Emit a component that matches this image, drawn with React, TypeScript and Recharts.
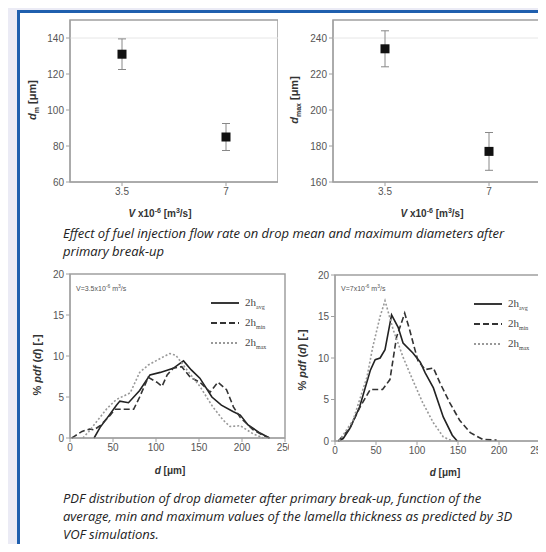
import {
  ScatterChart,
  Scatter,
  ErrorBar,
  LineChart,
  Line,
  XAxis,
  YAxis,
  ReferenceArea,
  ReferenceLine,
} from "recharts";

// flow rate panels (V x10^-6 m3/s)
const flowRates = [3.5, 7];
const meanDiam = [131, 85];
const meanErr = [8.5, 7.5];
const maxDiam = [234, 177];
const maxErr = [10, 10.5];

// pdf, V = 3.5e-6
const lowAvgD = [28, 35, 45, 54, 58, 68, 81, 93, 105, 120, 132, 141, 151, 165, 176, 190, 198, 207, 221, 232];
const lowAvgV = [0, 1.3, 2.7, 4.0, 4.5, 4.3, 5.8, 7.7, 8.0, 8.5, 9.4, 8.3, 7.3, 5.0, 4.0, 3.2, 2.8, 1.6, 0.6, 0];
const lowMinD = [2, 5, 14, 23, 28, 35, 47, 52, 66, 74, 81, 91, 101, 107, 113, 120, 130, 140, 151, 163, 172, 182, 190, 198, 213, 225, 232];
const lowMinV = [0, 0.2, 0.8, 1.1, 1.0, 1.5, 2.8, 3.5, 3.5, 3.5, 5.0, 7.4, 6.8, 6.3, 7.7, 8.5, 8.7, 7.4, 6.8, 5.6, 6.8, 5.9, 3.8, 2.5, 1.0, 0.3, 0];
const lowMaxD = [15, 22, 31, 43, 54, 70, 81, 91, 105, 116, 123, 136, 151, 166, 178, 186, 198, 213, 225];
const lowMaxV = [0, 0.8, 2.0, 3.6, 4.7, 5.5, 8.0, 8.9, 9.7, 10.3, 10.1, 8.3, 6.3, 3.8, 2.2, 1.4, 1.5, 0.5, 0];

// pdf, V = 7e-6
const highAvgD = [4, 10, 18, 30, 43, 49, 55, 61, 69, 77, 83, 95, 104, 110, 120, 132, 143, 149];
const highAvgV = [0, 0.3, 1.5, 4.1, 8.5, 9.8, 10, 11, 15.2, 13.7, 11.8, 10.6, 9.5, 8.2, 6.4, 2.9, 0.7, 0];
const highMinD = [4, 18, 30, 43, 58, 67, 75, 85, 91, 101, 110, 120, 128, 140, 152, 165, 180, 197];
const highMinV = [0, 1.5, 4.0, 6.2, 6.2, 7.4, 12.5, 15.4, 13.4, 9.7, 8.6, 8.8, 7.0, 4.6, 2.5, 1.0, 0.2, 0.1];
const highMaxD = [5, 22, 39, 46, 55, 61, 71, 83, 95, 107, 120, 132, 143];
const highMaxV = [0, 2.5, 7.7, 11.3, 15, 16.9, 13.4, 10.1, 7.3, 4.6, 2.2, 0.5, 0];

const pdfTicksX = [0, 50, 100, 150, 200, 250];
const pdfTicksY = [0, 5, 10, 15, 20];

const toPoints = (ds: number[], vs: number[]) => ds.map((d, i) => ({ d, v: vs[i] }));
const meanPts = flowRates.map((x, i) => ({ x, y: meanDiam[i], err: meanErr[i] }));
const maxPts = flowRates.map((x, i) => ({ x, y: maxDiam[i], err: maxErr[i] }));

const tickStyle = { fontSize: 10, fill: "#555", fontFamily: "Liberation Sans" };
const boxStroke = "#a0a0a0";

const Square = (p: any) => <rect x={p.cx - 4.5} y={p.cy - 4.5} width={9} height={9} fill="#111" />;

const seriesStyles = [
  { key: "avg", dash: undefined, color: "#222" },
  { key: "min", dash: "6 3", color: "#333" },
  { key: "max", dash: "2 2", color: "#999" },
];

const abs = (left: number, top: number, extra: any = {}) => ({ position: "absolute" as const, left, top, ...extra });

const PdfLegend = ({ left, top }: any) => (
  <div style={abs(left, top, { fontFamily: "Liberation Serif", fontSize: 11, color: "#444" })}>
    {seriesStyles.map((s) => (
      <div key={s.key} style={{ display: "flex", alignItems: "center", height: 20 }}>
        <svg width={30} height={6}>
          <line x1={0} y1={3} x2={28} y2={3} stroke={s.color} strokeWidth={1.8} strokeDasharray={s.dash} />
        </svg>
        <span style={{ marginLeft: 4 }}>
          2h<sub style={{ fontSize: 6 }}>{s.key}</sub>
        </span>
      </div>
    ))}
  </div>
);

const VText = ({ cx, cy, children, size = 11 }: any) => (
  <div
    style={abs(cx, cy, {
      transform: "translate(-50%,-50%) rotate(-90deg)",
      whiteSpace: "nowrap",
      fontFamily: "Liberation Sans",
      fontWeight: "bold",
      fontSize: size,
      color: "#333",
    })}
  >
    {children}
  </div>
);

const HText = ({ cx, cy, children }: any) => (
  <div
    style={abs(cx, cy, {
      transform: "translate(-50%,-50%)",
      whiteSpace: "nowrap",
      fontFamily: "Liberation Sans",
      fontWeight: "bold",
      fontSize: 10,
      color: "#333",
    })}
  >
    {children}
  </div>
);

const captionStyle = {
  fontFamily: "Open Sans",
  fontStyle: "italic",
  fontSize: 13,
  lineHeight: "18px",
  color: "#222",
  whiteSpace: "nowrap" as const,
};

const FlowChart = ({ data, domain, ticks, top }: any) => (
  <ScatterChart width={260} height={230} margin={{ top: 20, right: 0, bottom: 18, left: 0 }}>
    <XAxis
      type="number"
      dataKey="x"
      domain={[1.75, 8.75]}
      ticks={flowRates}
      height={30}
      tick={tickStyle}
      tickSize={4}
      stroke={boxStroke}
    />
    <YAxis
      type="number"
      dataKey="y"
      domain={domain}
      ticks={ticks}
      width={52}
      tick={tickStyle}
      tickSize={4}
      stroke={boxStroke}
      allowDataOverflow
    />
    <ReferenceLine y={top} stroke="#e6e6e6" />
    <ReferenceArea x1={1.75} x2={8.75} y1={domain[0]} y2={domain[1]} fill="none" stroke={boxStroke} strokeWidth={1.5} />
    <Scatter data={data} shape={Square} isAnimationActive={false}>
      <ErrorBar dataKey="err" direction="y" width={4} stroke="#888" strokeWidth={1} />
    </Scatter>
  </ScatterChart>
);

const PdfChart = ({ avg, min, max, width, margin }: any) => (
  <LineChart width={width} height={240} margin={margin}>
    <XAxis
      type="number"
      dataKey="d"
      domain={[0, 250]}
      ticks={pdfTicksX}
      height={30}
      tick={tickStyle}
      tickSize={4}
      stroke={boxStroke}
      allowDuplicatedCategory={false}
    />
    <YAxis type="number" domain={[0, 20]} ticks={pdfTicksY} width={30} tick={tickStyle} tickSize={4} stroke={boxStroke} />
    <ReferenceArea x1={0} x2={250} y1={0} y2={20} fill="none" stroke={boxStroke} strokeWidth={1.5} />
    {[avg, min, max].map((pts: any, i: number) => (
      <Line
        key={seriesStyles[i].key}
        data={pts}
        dataKey="v"
        type="linear"
        stroke={seriesStyles[i].color}
        strokeWidth={1.6}
        strokeDasharray={seriesStyles[i].dash}
        dot={false}
        isAnimationActive={false}
      />
    ))}
  </LineChart>
);

export default function App() {
  return (
    <div style={{ position: "relative", width: 546, height: 552, margin: -8, overflow: "hidden", background: "#ebebf5" }}>
      <div
        style={abs(17, 10, {
          right: 0,
          bottom: 0,
          background: "#fff",
          borderLeft: "3px solid #1f5fae",
          borderTop: "3px solid #1f5fae",
        })}
      />

      <div style={abs(18, 0)}>
        <FlowChart data={meanPts} domain={[60, 150]} ticks={[60, 80, 100, 120, 140]} top={140} />
      </div>
      <div style={abs(281, 0)}>
        <FlowChart data={maxPts} domain={[160, 250]} ticks={[160, 180, 200, 220, 240]} top={240} />
      </div>

      <VText cx={33} cy={100}>
        <i>d</i>
        <sub style={{ fontSize: 7 }}>m</sub> [μm]
      </VText>
      <VText cx={295} cy={100}>
        <i>d</i>
        <sub style={{ fontSize: 7 }}>max</sub> [μm]
      </VText>
      <HText cx={160} cy={213}>
        <i>V</i> x10<sup style={{ fontSize: 7 }}>-6</sup> [m<sup style={{ fontSize: 7 }}>3</sup>/s]
      </HText>
      <HText cx={432} cy={213}>
        <i>V</i> x10<sup style={{ fontSize: 7 }}>-6</sup> [m<sup style={{ fontSize: 7 }}>3</sup>/s]
      </HText>

      <div style={abs(63, 224, captionStyle)}>
        Effect of fuel injection flow rate on drop mean and maximum diameters after
        <br />
        primary break-up
      </div>

      <div style={abs(0, 250, { width: 289, height: 240, overflow: "hidden" })}>
        <PdfChart
          avg={toPoints(lowAvgD, lowAvgV)}
          min={toPoints(lowMinD, lowMinV)}
          max={toPoints(lowMaxD, lowMaxV)}
          width={300}
          margin={{ top: 24, right: 15, bottom: 22, left: 40 }}
        />
      </div>
      <div style={abs(290, 250)}>
        <PdfChart
          avg={toPoints(highAvgD, highAvgV)}
          min={toPoints(highMinD, highMinV)}
          max={toPoints(highMaxD, highMaxV)}
          width={256}
          margin={{ top: 25, right: 6, bottom: 19, left: 15 }}
        />
      </div>
      <PdfLegend left={211} top={293} />
      <PdfLegend left={474} top={294} />

      <div style={abs(76, 283, { fontFamily: "Liberation Sans", fontSize: 7, color: "#555" })}>
        V=3.5x10<sup style={{ fontSize: 5 }}>-6</sup> m<sup style={{ fontSize: 5 }}>3</sup>/s
      </div>
      <div style={abs(341, 283, { fontFamily: "Liberation Sans", fontSize: 7, color: "#555" })}>
        V=7x10<sup style={{ fontSize: 5 }}>-6</sup> m<sup style={{ fontSize: 5 }}>3</sup>/s
      </div>

      <VText cx={37} cy={365}>
        % <i>pdf</i> (<i>d</i>) [-]
      </VText>
      <VText cx={302} cy={360}>
        % <i>pdf</i> (<i>d</i>) [-]
      </VText>
      <HText cx={170} cy={470}>
        <i>d</i> [μm]
      </HText>
      <HText cx={445} cy={472}>
        <i>d</i> [μm]
      </HText>

      <div style={abs(63, 489, captionStyle)}>
        PDF distribution of drop diameter after primary break-up, function of the
        <br />
        average, min and maximum values of the lamella thickness as predicted by 3D
        <br />
        VOF simulations.
      </div>
    </div>
  );
}
